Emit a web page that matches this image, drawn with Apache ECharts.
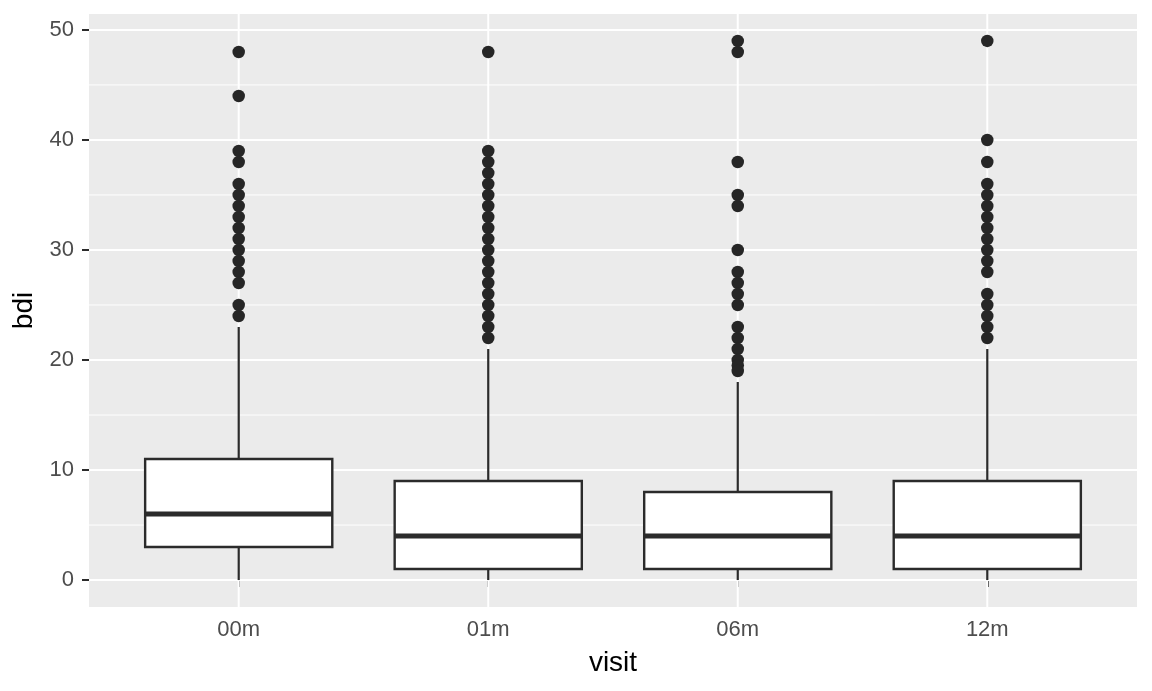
<!DOCTYPE html>
<html>
<head>
<meta charset="utf-8">
<script src="https://cdn.jsdelivr.net/npm/echarts@6/dist/echarts.min.js"></script>
<style>html,body{margin:0;padding:0;background:#fff}#c{width:1152px;height:691px}</style>
</head>
<body>
<div id="c"></div>
<script>
var categories = ['00m', '01m', '06m', '12m'];
var whiskerLow = [0, 0, 0, 0];
var q1 = [3, 1, 1, 1];
var median = [6, 4, 4, 4];
var q3 = [11, 9, 8, 9];
var whiskerHigh = [23, 21, 18, 21];
var outliers00m = [48, 44, 39, 38, 36, 35, 34, 33, 32, 31, 30, 29, 28, 27, 25, 24];
var outliers01m = [48, 39, 38, 37, 36, 35, 34, 33, 32, 31, 30, 29, 28, 27, 26, 25, 24, 23, 22];
var outliers06m = [49, 48, 38, 35, 34, 30, 28, 27, 26, 25, 23, 22, 21, 20, 19.5, 19];
var outliers12m = [49, 40, 38, 36, 35, 34, 33, 32, 31, 30, 29, 28, 26, 25, 24, 23, 22];
var yMajorBreaks = [0, 10, 20, 30, 40, 50];
var yMinorBreaks = [5, 15, 25, 35, 45];

var outlierLists = [outliers00m, outliers01m, outliers06m, outliers12m];
var outlierData = [];
outlierLists.forEach(function (list, i) {
  list.forEach(function (v) { outlierData.push([i + 1, v]); });
});
var boxData = categories.map(function (c, i) {
  return [i + 1, whiskerLow[i], q1[i], median[i], q3[i], whiskerHigh[i]];
});
var gridData = [];
yMajorBreaks.forEach(function (v) { gridData.push([0, v, 2]); });
yMinorBreaks.forEach(function (v) { gridData.push([0, v, 1]); });
categories.forEach(function (c, i) { gridData.push([i + 1, 0, 3]); });

var chart = echarts.init(document.getElementById('c'), null, {renderer: 'canvas'});
var dark = '#2b2b2b';
chart.setOption({
  animation: false,
  backgroundColor: '#ffffff',
  grid: {left: 89, right: 15, top: 14, bottom: 84, show: true, backgroundColor: '#EBEBEB', borderWidth: 0},
  xAxis: {
    type: 'value', min: 0.4, max: 4.6,
    name: 'visit', nameLocation: 'middle', nameGap: 42,
    nameTextStyle: {color: '#000', fontSize: 28, fontFamily: 'Liberation Sans'},
    axisLine: {show: false},
    axisTick: {show: true, length: 7, lineStyle: {color: dark, width: 2}, customValues: [1, 2, 3, 4]},
    axisLabel: {customValues: [1, 2, 3, 4], margin: 12, color: '#4D4D4D', fontSize: 22, fontFamily: 'Liberation Sans',
      formatter: function (v) { return categories[Math.round(v) - 1] || ''; }},
    splitLine: {show: false}
  },
  yAxis: {
    type: 'value', min: -2.45, max: 51.45,
    name: 'bdi', nameLocation: 'middle', nameGap: 50,
    nameTextStyle: {color: '#000', fontSize: 28, fontFamily: 'Liberation Sans'},
    axisLine: {show: false},
    axisTick: {show: true, length: 7, lineStyle: {color: dark, width: 2}, customValues: yMajorBreaks},
    axisLabel: {customValues: yMajorBreaks, margin: 15, color: '#4D4D4D', fontSize: 22, fontFamily: 'Liberation Sans'},
    splitLine: {show: false}
  },
  series: [
    {
      type: 'custom', z: 1, silent: true, clip: false,
      data: gridData,
      renderItem: function (params, api) {
        var cs = params.coordSys;
        var kind = api.value(2);
        if (kind === 3) {
          var x = api.coord([api.value(0), 0])[0];
          return {type: 'line', shape: {x1: x, y1: cs.y, x2: x, y2: cs.y + cs.height},
            style: {stroke: '#ffffff', lineWidth: 2}};
        }
        var y = api.coord([1, api.value(1)])[1];
        return {type: 'line', shape: {x1: cs.x, y1: y, x2: cs.x + cs.width, y2: y},
          style: {stroke: '#ffffff', lineWidth: kind === 2 ? 2 : 1}};
      }
    },
    {
      type: 'custom', z: 2, silent: true,
      data: boxData,
      renderItem: function (params, api) {
        var xv = api.value(0);
        var pLow = api.coord([xv, api.value(1)]);
        var pQ1 = api.coord([xv, api.value(2)]);
        var pMed = api.coord([xv, api.value(3)]);
        var pQ3 = api.coord([xv, api.value(4)]);
        var pHigh = api.coord([xv, api.value(5)]);
        var hw = api.size([0.375, 0])[0];
        var cx = pMed[0];
        return {
          type: 'group',
          children: [
            {type: 'line', shape: {x1: cx, y1: pLow[1], x2: cx, y2: pQ1[1]}, style: {stroke: dark, lineWidth: 2.2}},
            {type: 'line', shape: {x1: cx, y1: pQ3[1], x2: cx, y2: pHigh[1]}, style: {stroke: dark, lineWidth: 2.2}},
            {type: 'rect', shape: {x: cx - hw, y: pQ3[1], width: 2 * hw, height: pQ1[1] - pQ3[1]},
              style: {fill: '#ffffff', stroke: dark, lineWidth: 2.4}},
            {type: 'line', shape: {x1: cx - hw, y1: pMed[1], x2: cx + hw, y2: pMed[1]}, style: {stroke: dark, lineWidth: 5}}
          ]
        };
      }
    },
    {
      type: 'scatter', z: 3, silent: true,
      data: outlierData, symbol: 'circle', symbolSize: 12.5,
      itemStyle: {color: '#262626', opacity: 1}
    }
  ]
});
</script>
</body>
</html>
